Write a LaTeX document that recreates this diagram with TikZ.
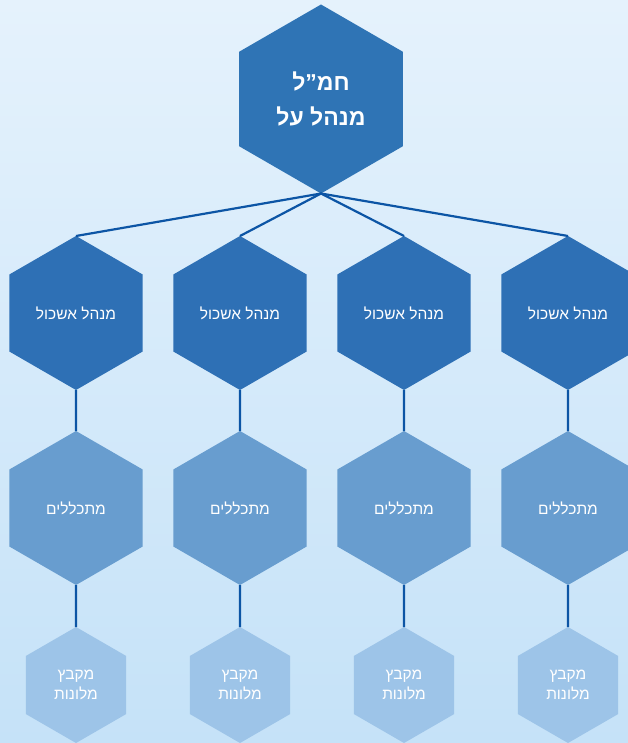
\documentclass[tikz,border=0pt]{standalone}
\usepackage{fontspec}
\setmainfont{Liberation Sans}
\newfontfamily\hebfont[Script=Hebrew]{Liberation Sans}
\TeXXeTstate=1
\usetikzlibrary{shapes.geometric}
\definecolor{bgtop}{RGB}{229,242,252}
\definecolor{bgbottom}{RGB}{197,226,248}
\definecolor{topblue}{RGB}{47,116,181}
\definecolor{ashkolblue}{RGB}{46,112,181}
\definecolor{mitkalblue}{RGB}{104,157,207}
\definecolor{mikbatzblue}{RGB}{157,196,232}
\definecolor{linkblue}{RGB}{12,85,165}
\newcommand{\heb}[1]{\beginR #1\endR}
\tikzset{
  hexcell/.style={regular polygon, regular polygon sides=6, shape border rotate=30,
    inner sep=0pt, outer sep=0pt, text=white, align=center,
    font=\hebfont\fontsize{15.5}{20}\selectfont},
  link/.style={draw=linkblue, line width=2.2pt}
}
\begin{document}
\begin{tikzpicture}[x=1pt,y=-1pt]
  \shade[top color=bgtop,bottom color=bgbottom] (0,0) rectangle (628,743);
  \useasboundingbox (0,0) rectangle (628,743);
  % top
  \node[hexcell,fill=topblue,minimum size=189pt,
    font=\hebfont\bfseries\fontsize{23}{35}\selectfont] (chamal) at (321,99) {\heb{חמ”ל}\\\heb{מנהל על}};
  % clusters
  \node[hexcell,fill=ashkolblue,minimum size=154pt] (ashkol1) at (76,313) {\heb{מנהל אשכול}};
  \node[hexcell,fill=ashkolblue,minimum size=154pt] (ashkol2) at (240,313) {\heb{מנהל אשכול}};
  \node[hexcell,fill=ashkolblue,minimum size=154pt] (ashkol3) at (404,313) {\heb{מנהל אשכול}};
  \node[hexcell,fill=ashkolblue,minimum size=154pt] (ashkol4) at (568,313) {\heb{מנהל אשכול}};
  % integrators
  \node[hexcell,fill=mitkalblue,minimum size=154pt] (mitkal1) at (76,508) {\heb{מתכללים}};
  \node[hexcell,fill=mitkalblue,minimum size=154pt] (mitkal2) at (240,508) {\heb{מתכללים}};
  \node[hexcell,fill=mitkalblue,minimum size=154pt] (mitkal3) at (404,508) {\heb{מתכללים}};
  \node[hexcell,fill=mitkalblue,minimum size=154pt] (mitkal4) at (568,508) {\heb{מתכללים}};
  % hotels
  \node[hexcell,fill=mikbatzblue,minimum size=116pt] (mikbatz1) at (76,685) {\heb{מקבץ}\\\heb{מלונות}};
  \node[hexcell,fill=mikbatzblue,minimum size=116pt] (mikbatz2) at (240,685) {\heb{מקבץ}\\\heb{מלונות}};
  \node[hexcell,fill=mikbatzblue,minimum size=116pt] (mikbatz3) at (404,685) {\heb{מקבץ}\\\heb{מלונות}};
  \node[hexcell,fill=mikbatzblue,minimum size=116pt] (mikbatz4) at (568,685) {\heb{מקבץ}\\\heb{מלונות}};
  % links
  \draw[link] (ashkol1.north) -- (chamal.south) -- (ashkol4.north);
  \draw[link] (ashkol2.north) -- (chamal.south) -- (ashkol3.north);
  \draw[link] (ashkol1.south) -- (mitkal1.north);
  \draw[link] (ashkol2.south) -- (mitkal2.north);
  \draw[link] (ashkol3.south) -- (mitkal3.north);
  \draw[link] (ashkol4.south) -- (mitkal4.north);
  \draw[link] (mitkal1.south) -- (mikbatz1.north);
  \draw[link] (mitkal2.south) -- (mikbatz2.north);
  \draw[link] (mitkal3.south) -- (mikbatz3.north);
  \draw[link] (mitkal4.south) -- (mikbatz4.north);
\end{tikzpicture}
\end{document}
